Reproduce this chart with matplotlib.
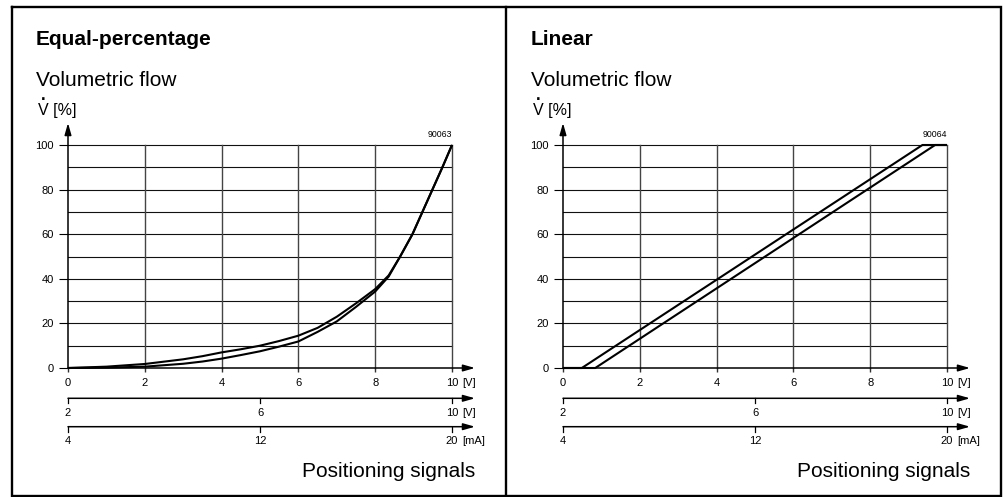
import matplotlib
matplotlib.use("Agg")
import matplotlib.pyplot as plt

plt.rcParams['font.family'] = ['Liberation Sans', 'DejaVu Sans']

W, H = 1005, 497

# ---------------- data ----------------
titles = ["Equal-percentage", "Linear"]
drawing_ids = ["90063", "90064"]

eq_x = [0, 1, 2, 3, 3.5, 4, 4.5, 5, 5.5, 6, 6.5, 7, 7.5, 8, 8.35, 8.65, 8.97, 9.23, 9.49, 9.75, 10]
eq_upper = [0, 0.6, 1.8, 3.9, 5.3, 7.0, 8.4, 10.0, 12.1, 14.5, 18, 23, 29, 35.4, 41.5, 50, 60, 70, 80, 90, 100]
eq_lower = [0, 0.15, 0.6, 1.9, 2.9, 4.2, 5.8, 7.5, 9.6, 11.9, 16.2, 20.9, 27.4, 34.3, 41, 50, 60, 70, 80, 90, 100]

lin_upper_x = [0, 0.49, 9.36, 10]
lin_upper_y = [0, 0, 100, 100]
lin_lower_x = [0, 0.84, 9.69, 10]
lin_lower_y = [0, 0, 100, 100]

main_ticks = [0, 2, 4, 6, 8, 10]
main_labels = ["0", "2", "4", "6", "8", "10"]
y_ticks = [0, 20, 40, 60, 80, 100]
y_grid = [10, 20, 30, 40, 50, 60, 70, 80, 90, 100]
x_grid = [2, 4, 6, 8, 10]
scale2_ticks = [2, 6, 10]
scale3_ticks = [4, 12, 20]
units = ["[V]", "[V]", "[mA]"]

# ---------------- figure ----------------
fig = plt.figure(figsize=(W / 100, H / 100), dpi=100)
bg = fig.add_axes([0, 0, 1, 1])
bg.set_xlim(0, W)
bg.set_ylim(H, 0)
bg.axis('off')

# outer frame and divider
bg.plot([12, 1001, 1001, 12, 12], [7, 7, 495.8, 495.8, 7], color='k', lw=1.7,
        solid_joinstyle='miter')
bg.plot([505.5, 505.5], [7, 495.8], color='k', lw=1.7)


def frac_rect(x0, y_top, x1, y_bot):
    return [x0 / W, 1 - y_bot / H, (x1 - x0) / W, (y_bot - y_top) / H]


arrow_kw = dict(arrowstyle='-|>,head_length=0.7,head_width=0.2', color='k',
                lw=1.1, shrinkA=0, shrinkB=0)

TICK_FS = 8
BIG_FS = 15


def panel(dx, title, did, curves):
    bg.text(36 + dx, 45, title, fontsize=BIG_FS, fontweight='bold', va='baseline', ha='left')
    bg.text(36 + dx, 86, "Volumetric flow", fontsize=BIG_FS, va='baseline', ha='left')
    bg.text(38 + dx, 115, "V [%]", fontsize=11.5, va='baseline', ha='left')
    bg.text(43.3 + dx, 100, ".", fontsize=12, va='baseline', ha='center',
            fontweight='bold')
    bg.text(475 + dx, 477, "Positioning signals", fontsize=BIG_FS, va='baseline', ha='right')

    x0, x1 = 68 + dx, 452 + dx
    ax = fig.add_axes(frac_rect(x0, 145, x1, 368))
    ax.set_xlim(0, 10)
    ax.set_ylim(0, 100)
    for s in ax.spines.values():
        s.set_visible(False)
    ax.set_facecolor('none')

    ax.set_xticks(main_ticks)
    ax.set_xticklabels(main_labels, fontsize=TICK_FS)
    ax.set_yticks(y_ticks)
    ax.set_yticklabels([str(v) for v in y_ticks], fontsize=TICK_FS)
    ax.tick_params(axis='x', which='major', direction='out', length=2.7, width=1.0,
                   pad=4.5, color='#333')
    ax.tick_params(axis='y', which='major', direction='out', length=6.3, width=0.8,
                   pad=3.8, color='k')
    for gy in y_grid:
        ax.axhline(gy, color='#111', lw=0.8, clip_on=False, zorder=1)
    for gx in x_grid:
        ax.axvline(gx, color='#444', lw=1.0, clip_on=False, zorder=1)

    ax.annotate(units[0], xy=(10, 0), xycoords='data', xytext=(7.6, -7.2),
                textcoords='offset points', ha='left', va='top', fontsize=TICK_FS)

    # axis arrows
    ax.annotate('', xy=((475 - 68) / 384, 0), xytext=(0, 0),
                xycoords='axes fraction', arrowprops=arrow_kw, annotation_clip=False)
    ax.annotate('', xy=(0, (368 - 123) / 223), xytext=(0, 0),
                xycoords='axes fraction', arrowprops=arrow_kw, annotation_clip=False)

    ax.annotate(did, xy=(1, 1), xycoords='axes fraction', xytext=(0, 5.5),
                textcoords='offset points', ha='right', va='baseline', fontsize=6.3)

    for cx, cy in curves:
        ax.plot(cx, cy, color='k', lw=1.5, clip_on=False, solid_capstyle='butt',
                solid_joinstyle='round', zorder=3)

    # secondary scales
    for y_line, lim, ticks, unit in [(398.3, (2, 10), scale2_ticks, units[1]),
                                     (426.7, (4, 20), scale3_ticks, units[2])]:
        sa = fig.add_axes(frac_rect(x0, y_line, x1, y_line + 5))
        sa.set_xlim(*lim)
        sa.set_ylim(0, 1)
        sa.axis('off')
        sa.annotate('', xy=((475 - 68) / 384, 1), xytext=(0, 1),
                    xycoords='axes fraction', arrowprops=arrow_kw, annotation_clip=False)
        for t in ticks:
            sa.plot([t, t], [0, 1], color='k', lw=0.9, clip_on=False)
            sa.annotate(str(t), xy=(t, 0), xycoords='data', xytext=(0, -3.2),
                        textcoords='offset points', ha='center', va='top',
                        fontsize=TICK_FS)
        sa.annotate(unit, xy=(lim[1], 0), xycoords='data', xytext=(7.6, -3.2),
                    textcoords='offset points', ha='left', va='top', fontsize=TICK_FS)
    return ax


panel(0, titles[0], drawing_ids[0], [(eq_x, eq_upper), (eq_x, eq_lower)])
panel(495, titles[1], drawing_ids[1], [(lin_upper_x, lin_upper_y),
                                       (lin_lower_x, lin_lower_y)])

fig.savefig("out.png", dpi=100)
